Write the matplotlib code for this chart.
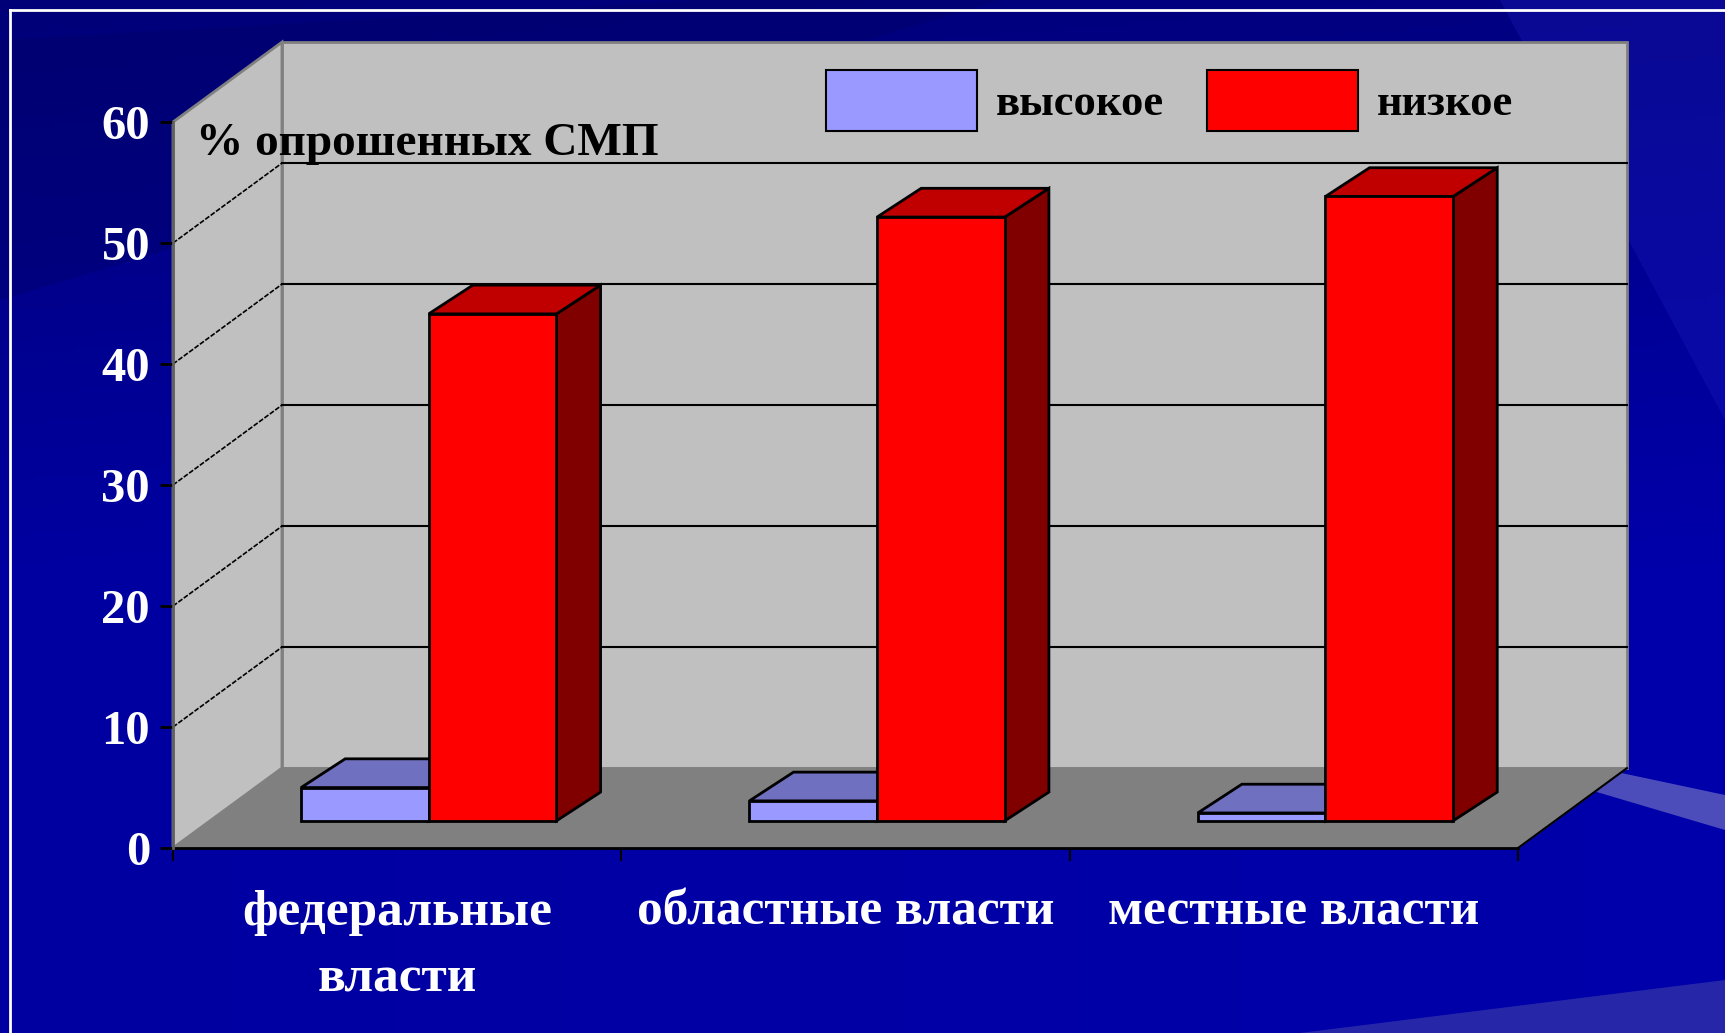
import matplotlib.pyplot as plt
import numpy as np
from matplotlib.patches import Polygon, Rectangle

categories = ['федеральные\nвласти', 'областные власти', 'местные власти']
high = [2.75, 1.65, 0.65]   # высокое
low = [41.9, 49.9, 51.6]    # низкое
series_names = ['высокое', 'низкое']
yticks = [0, 10, 20, 30, 40, 50, 60]
ylabel = '% опрошенных СМП'

plt.rcParams['font.family'] = ['Liberation Serif', 'DejaVu Serif']
plt.rcParams['font.weight'] = 'bold'

W, H = 1725, 1033
fig = plt.figure(figsize=(W / 100, H / 100), dpi=100)

# slide background: dark blue gradient with a few light streaks
bg = fig.add_axes([0, 0, 1, 1])
bg.set_axis_off()
yy, xx = np.mgrid[0:1:200j, 0:1:300j]
img = np.zeros((200, 300, 3))
img[..., 2] = 0.47 + 0.16 * np.clip(yy * 1.8, 0, 1) + 0.04 * xx
bg.imshow(img, extent=[0, W, H, 0], aspect='auto', zorder=0)
bg.add_patch(Polygon([(0, 40), (700, 0), (1000, 0), (0, 300)], fc='#000060', alpha=0.3, lw=0))
bg.add_patch(Polygon([(1500, 0), (1725, 0), (1725, 420)], fc='#2020c0', alpha=0.3, lw=0))
bg.add_patch(Polygon([(1560, 760), (1725, 795), (1725, 830), (1590, 790)], fc='#6060c0', alpha=0.8, lw=0))
bg.add_patch(Polygon([(1300, 1033), (1725, 980), (1725, 1033)], fc='#3030a8', alpha=0.8, lw=0))
bg.plot([10, W], [10, 10], color='white', lw=2)
bg.plot([10, 10], [10, H], color='white', lw=2)
bg.set_xlim(0, W)
bg.set_ylim(H, 0)

# chart
ax = fig.add_axes([173 / W, (H - 848) / H, 1345 / W, 726 / H])
n = len(categories)
ax.set_xlim(0, n)
ax.set_ylim(0, 60)
ax.patch.set_visible(False)
for s in ax.spines.values():
    s.set_visible(False)

DX, DY = 0.243, 6.6
top = yticks[-1]
ax.add_patch(Polygon([(0, 0), (DX, DY), (DX, top + DY), (0, top)], fc='#c0c0c0', ec='#808080', lw=2, clip_on=False, zorder=1))
ax.add_patch(Polygon([(DX, DY), (n + DX, DY), (n + DX, top + DY), (DX, top + DY)], fc='#c0c0c0', ec='#808080', lw=2, clip_on=False, zorder=1))
ax.add_patch(Polygon([(0, 0), (n, 0), (n + DX, DY), (DX, DY)], fc='#808080', ec='#808080', lw=1, clip_on=False, zorder=1))

for v in yticks[1:-1]:
    ax.plot([DX, n + DX], [v + DY, v + DY], color='black', lw=1.5, clip_on=False, zorder=2)
    ax.plot([0, DX], [v, v + DY], color='black', lw=1.2, ls=(0, (3, 1)), clip_on=False, zorder=2)
ax.plot([0, n], [0, 0], color='black', lw=2, clip_on=False, zorder=2)
ax.plot([n, n + DX], [0, DY], color='black', lw=1.5, clip_on=False, zorder=2)
ax.plot([0, 0], [0, top], color='#606060', lw=2, clip_on=False, zorder=2)

w = 0.2848
fx0, fy0, fx1, fy1 = 0.29, 0.34, 0.695, 0.70


def box(x0, h, front, lid, side, z):
    ax0, ay0 = fx0 * DX, fy0 * DY
    ax1, ay1 = fx1 * DX, fy1 * DY
    kw = dict(ec='black', lw=2, joinstyle='miter', clip_on=False)
    ax.add_patch(Polygon([(x0 + w + ax0, ay0), (x0 + w + ax1, ay1), (x0 + w + ax1, h + ay1), (x0 + w + ax0, h + ay0)], fc=side, zorder=z, **kw))
    ax.add_patch(Polygon([(x0 + ax0, h + ay0), (x0 + w + ax0, h + ay0), (x0 + w + ax1, h + ay1), (x0 + ax1, h + ay1)], fc=lid, zorder=z, **kw))
    ax.add_patch(Polygon([(x0 + ax0, ay0), (x0 + w + ax0, ay0), (x0 + w + ax0, h + ay0), (x0 + ax0, h + ay0)], fc=front, zorder=z + 0.5, **kw))


for i in range(n):
    c = i + 0.5
    box(c - w, high[i], '#9999ff', '#7070c0', '#5050a0', 3 + i)
    box(c, low[i], '#ff0000', '#c00000', '#800000', 3.2 + i)

ax.set_yticks(yticks)
ax.tick_params(axis='y', direction='out', length=9.5, width=2, color='black',
               labelcolor='white', labelsize=35, pad=7)
ax.set_xticks([i + 0.5 for i in range(n)])
ax.set_xticklabels(categories)
ax.set_xticks(range(n + 1), minor=True)
ax.tick_params(axis='x', which='major', length=0, labelcolor='white', labelsize=37, pad=30)
ax.tick_params(axis='x', which='minor', length=9, width=1.5, color='black')
for t in ax.get_xticklabels():
    t.set_linespacing(1.6)

fig.text(196 / W, 1 - 155 / H, ylabel, fontsize=34, color='black', va='baseline', ha='left')

handles = [Rectangle((0, 0), 1, 1, fc='#9999ff', ec='black', lw=1.5),
           Rectangle((0, 0), 1, 1, fc='#ff0000', ec='black', lw=1.5)]
fig.legend(handles, series_names, loc='upper left', bbox_to_anchor=(826 / W, 1 - 70 / H),
           ncol=2, frameon=False, fontsize=32, handlelength=3.4, handleheight=1.75,
           handletextpad=0.43, columnspacing=0.95, borderpad=0, borderaxespad=0)

fig.savefig('out.png', dpi=100)
